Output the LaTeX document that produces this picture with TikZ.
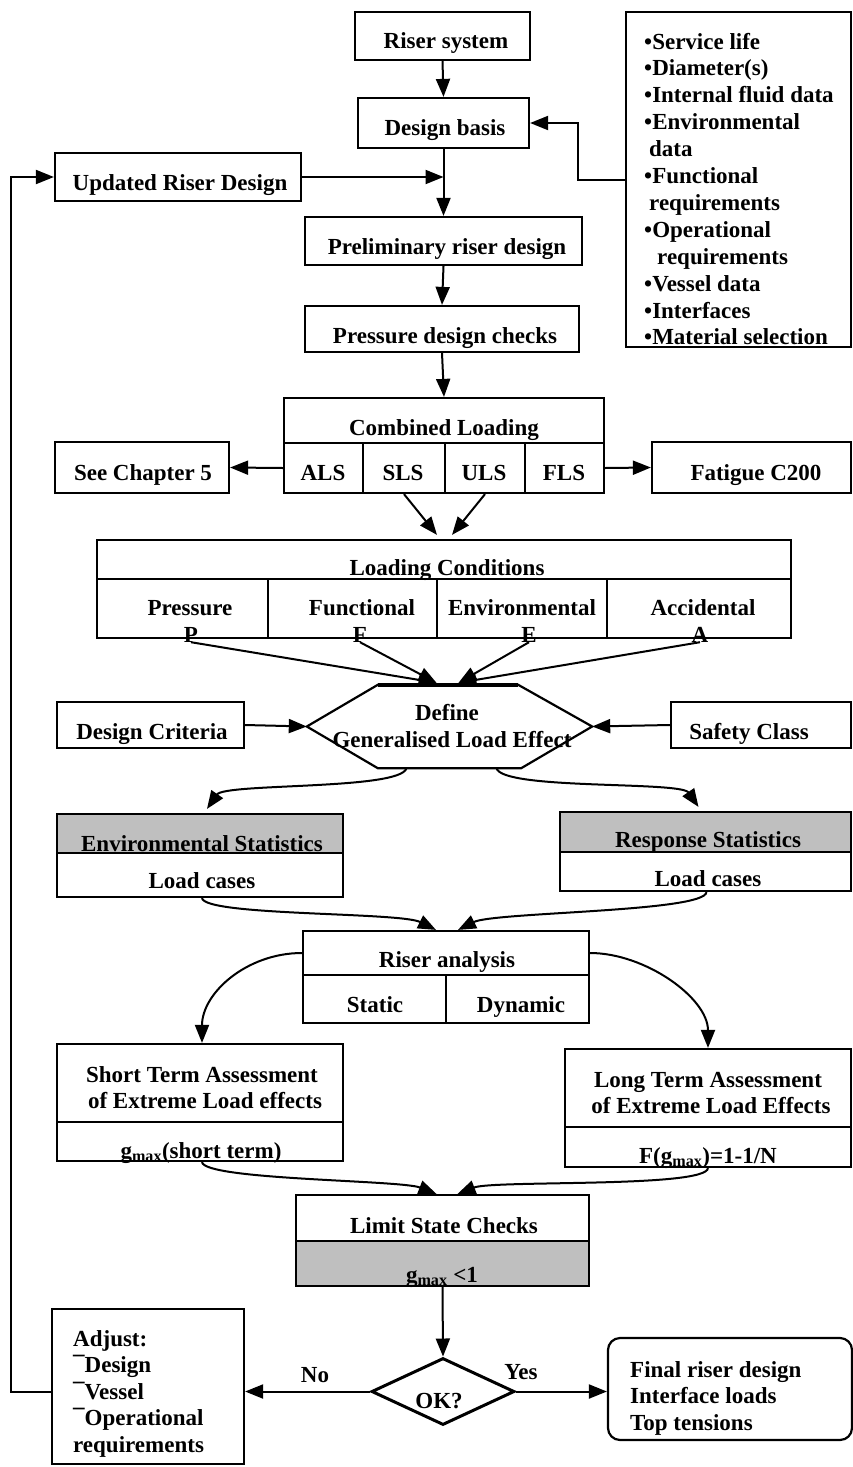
\documentclass[tikz,border=0pt]{standalone}
\usepackage{fontspec}
\setmainfont{Liberation Serif}
\usetikzlibrary{arrows.meta,calc,shapes.geometric}

\begin{document}
\begin{tikzpicture}[x=1pt,y=-1pt,
  box/.style={draw, line width=2.2pt, rectangle, inner sep=0pt},
  shaded/.style={box, fill=black!25},
  txt/.style={font=\fontsize{23}{27}\selectfont\bfseries, inner sep=0pt, anchor=base},
  link/.style={line width=2pt},
  arr/.style={line width=2pt, -{Triangle[length=18pt,width=14pt]}}]

\fill[white] (0,0) rectangle (853,1467);
\useasboundingbox (0,0) rectangle (853,1467);

% ---------- top part ----------
\node[box, minimum width=175pt, minimum height=48pt] (riser) at (442.5,36) {};
\node[box, minimum width=171pt, minimum height=50pt] (basis) at (443.5,123) {};
\node[box, minimum width=225pt, minimum height=335pt] (list) at (738.5,179.5) {};
\node[box, minimum width=246pt, minimum height=48pt] (updated) at (178,177) {};
\node[box, minimum width=277pt, minimum height=48pt] (prelim) at (443.5,241) {};
\node[box, minimum width=274pt, minimum height=46pt] (pressure) at (442,329) {};

\node[txt] (t-riser) at (446,48) {Riser system};
\node[txt] (t-basis) at (445,135) {Design basis};
\node[txt] (t-updated) at (180,190) {Updated Riser Design};
\node[txt] (t-prelim) at (447,254) {Preliminary riser design};
\node[txt] (t-pressure) at (445,343) {Pressure design checks};

\foreach \x/\t [count=\i from 0] in {644/•Service life, 644/•Diameter(s),
    644/•Internal fluid data, 644/•Environmental, 649/data, 644/•Functional,
    649/requirements, 644/•Operational, 657/requirements, 644/•Vessel data,
    644/•Interfaces, 644/•Material selection}
  \node[txt, anchor=base west] (li\i) at ({\x},{49+26.9*\i}) {\t};

% ---------- combined loading ----------
\node[box, minimum width=320pt, minimum height=45pt] (comb) at (444,420.5) {};
\node[box, minimum width=79pt, minimum height=50pt] (als) at (323.5,468) {};
\node[box, minimum width=82pt, minimum height=50pt] (sls) at (404,468) {};
\node[box, minimum width=80pt, minimum height=50pt] (uls) at (485,468) {};
\node[box, minimum width=79pt, minimum height=50pt] (fls) at (564.5,468) {};
\node[box, minimum width=174pt, minimum height=51pt] (ch5) at (142,467.5) {};
\node[box, minimum width=199pt, minimum height=51pt] (fatigue) at (751.5,467.5) {};

\node[txt] (t-comb) at (444,435) {Combined Loading};
\node[txt] (t-als) at (323,480) {ALS};
\node[txt] (t-sls) at (403,480) {SLS};
\node[txt] (t-uls) at (484,480) {ULS};
\node[txt] (t-fls) at (564,480) {FLS};
\node[txt] (t-ch5) at (143,480) {See Chapter 5};
\node[txt] (t-fatigue) at (756,480) {Fatigue C200};

% ---------- loading conditions ----------
\node[box, minimum width=694pt, minimum height=39pt] (loadc) at (444,559.5) {};
\node[box, minimum width=171pt, minimum height=59pt] (pres) at (182.5,608.5) {};
\node[box, minimum width=169pt, minimum height=59pt] (func) at (352.5,608.5) {};
\node[box, minimum width=170pt, minimum height=59pt] (envi) at (522,608.5) {};
\node[box, minimum width=184pt, minimum height=59pt] (acci) at (699,608.5) {};

\node[txt] (t-loadc) at (447,575) {Loading Conditions};
\node[txt] (t-pres) at (190,615) {Pressure};
\node[txt] (t-func) at (362,615) {Functional};
\node[txt] (t-envi) at (522,615) {Environmental};
\node[txt] (t-acci) at (703,615) {Accidental};
\node[txt] (tP) at (191,642) {P};
\node[txt] (tF) at (360,642) {F};
\node[txt] (tE) at (529,642) {E};
\node[txt] (tA) at (700,642) {A};

% ---------- generalised load effect ----------
\node[minimum width=285pt, minimum height=83pt, inner sep=0pt] (hex) at (449.5,726.5) {};
\draw[line width=2.2pt] (hex.west) -- ($(hex.north west)+(71,0)$) -- ($(hex.north east)+(-74,0)$)
  -- (hex.east) -- ($(hex.south east)+(-71,0)$) -- ($(hex.south west)+(71,0)$) -- cycle;
\draw[line width=4.5pt] ($(hex.north west)+(71,0)$) -- ($(hex.north east)+(-74,0)$);
\node[box, minimum width=187pt, minimum height=46pt] (crit) at (150.5,725) {};
\node[box, minimum width=180pt, minimum height=46pt] (safety) at (761,725) {};

\node[txt] (t-define) at (447,720) {Define};
\node[txt] (t-gle) at (452,747) {Generalised Load Effect};
\node[txt] (t-crit) at (152,739) {Design Criteria};
\node[txt] (t-safety) at (749,739) {Safety Class};

% ---------- statistics ----------
\node[shaded, minimum width=286pt, minimum height=39pt] (envstat) at (200,833.5) {};
\node[box, minimum width=286pt, minimum height=44pt] (envload) at (200,875) {};
\node[shaded, minimum width=291pt, minimum height=40pt] (respstat) at (705.5,832) {};
\node[box, minimum width=291pt, minimum height=39pt] (respload) at (705.5,871.5) {};

\node[txt] (t-envstat) at (202,851) {Environmental Statistics};
\node[txt] (t-envload) at (202,888) {Load cases};
\node[txt] (t-respstat) at (708,847) {Response Statistics};
\node[txt] (t-respload) at (708,886) {Load cases};

% ---------- riser analysis ----------
\node[box, minimum width=286pt, minimum height=44pt] (ranal) at (446,953) {};
\node[box, minimum width=143pt, minimum height=48pt] (static) at (374.5,999) {};
\node[box, minimum width=143pt, minimum height=48pt] (dynamic) at (517.5,999) {};

\node[txt] (t-ranal) at (447,967) {Riser analysis};
\node[txt] (t-static) at (375,1012) {Static};
\node[txt] (t-dynamic) at (521,1012) {Dynamic};

% ---------- assessments ----------
\node[box, minimum width=286pt, minimum height=78pt] (short) at (200,1083) {};
\node[box, minimum width=286pt, minimum height=39pt] (shortg) at (200,1141.5) {};
\node[box, minimum width=286pt, minimum height=78pt] (long) at (708,1088) {};
\node[box, minimum width=286pt, minimum height=40pt] (longg) at (708,1147) {};

\node[txt] (t-short1) at (202,1082) {Short Term Assessment};
\node[txt] (t-short2) at (205,1108) {of Extreme Load effects};
\node[txt] (t-shortg) at (201,1158) {g\textsubscript{max}(short term)};
\node[txt] (t-long1) at (708,1087) {Long Term Assessment};
\node[txt] (t-long2) at (711,1113) {of Extreme Load Effects};
\node[txt] (t-longg) at (708,1163) {F(g\textsubscript{max})=1-1/N};

% ---------- limit state checks ----------
\node[box, minimum width=293pt, minimum height=46pt] (limit) at (442.5,1218) {};
\node[shaded, minimum width=293pt, minimum height=45pt] (limitg) at (442.5,1263.5) {};
\node[txt] (t-limit) at (444,1233) {Limit State Checks};
\node[txt] (t-limitg) at (442,1282) {g\textsubscript{max} <1};

% ---------- decision ----------
\node[draw, diamond, line width=3pt, minimum width=143pt, minimum height=67pt,
  inner sep=0pt, aspect=2] (ok) at (443,1391.5) {};
\node[txt] (t-ok) at (439,1408) {OK?};
\node[txt] (t-no) at (315,1382) {No};
\node[txt] (t-yes) at (521,1379) {Yes};

\node[box, minimum width=192pt, minimum height=155pt] (adjust) at (148,1386.5) {};
\node[box, rounded corners=12pt, minimum width=244pt, minimum height=102pt] (final) at (730,1389) {};

\foreach \t [count=\i from 0] in {Adjust:, ¯Design, ¯Vessel, ¯Operational, requirements}
  \node[txt, anchor=base west] (ad\i) at (73,{1346+26.5*\i}) {\t};
\foreach \t [count=\i from 0] in {Final riser design, Interface loads, Top tensions}
  \node[txt, anchor=base west] (fi\i) at (630,{1377+26.5*\i}) {\t};

% ---------- connectors ----------
\draw[arr] (riser.south) -- (basis.north);
\draw[arr] (basis.south) -- (basis.south |- prelim.north);
\draw[arr] (updated.east) -- (updated.east -| basis.south);
\draw[arr] (list.west) -- ++(-47,0) |- (basis.east);
\draw[arr] (prelim.south) -- (pressure.north);
\draw[arr] (pressure.south) -- (comb.north);
\draw[arr] (als.west) -- (ch5.east);
\draw[arr] (fls.east) -- (fatigue.west);
\draw[arr] (sls.south) -- ($(loadc.north)+(-7,-4)$);
\draw[arr] (uls.south) -- ($(loadc.north)+(8,-4)$);

\draw[arr] (tP.south) -- ($(hex.north)+(-13,-2)$);
\draw[arr] (tF.south) -- ($(hex.north)+(-13,-2)$);
\draw[arr] (tE.south) -- ($(hex.north)+(9,-2)$);
\draw[arr] (tA.south) -- ($(hex.north)+(9,-2)$);
\draw[arr] (crit.east) -- (hex.west);
\draw[arr] (safety.west) -- (hex.east);

\draw[arr] ($(hex.south)+(-43,0)$) .. controls +(-6,22) and +(18,-26) .. ($(envstat.north)+(7,-4)$);
\draw[arr] ($(hex.south)+(47,0)$) .. controls +(6,22) and +(-18,-26) .. ($(respstat.north)+(-7,-4)$);
\draw[arr] ($(envload.south)+(2,0)$) .. controls +(3,18) and +(-36,-18) .. ($(ranal.north)+(-10,0)$);
\draw[arr] ($(respload.south)+(1,0)$) .. controls +(-2,20) and +(36,-18) .. ($(ranal.north)+(12,0)$);
\draw[arr] (ranal.west) .. controls +(-55,0) and +(0,-50) .. ($(short.north)+(2,0)$);
\draw[arr] (ranal.east) .. controls +(55,0) and +(0,-50) .. (long.north);
\draw[arr] ($(shortg.south)+(2,0)$) .. controls +(3,18) and +(-36,-14) .. ($(limit.north)+(-6,0)$);
\draw[arr] (longg.south) .. controls +(-2,20) and +(36,-14) .. ($(limit.north)+(15,0)$);

\draw[arr] (limitg.south) -- (ok.north);
\draw[arr] (ok.west) -- (ok.west -| adjust.east);
\draw[arr] (ok.east) -- (ok.east -| final.west);
\draw[arr] ($(adjust.west)+(0,5)$) -- ++(-40,0) |- (updated.west);

\end{tikzpicture}
\end{document}
